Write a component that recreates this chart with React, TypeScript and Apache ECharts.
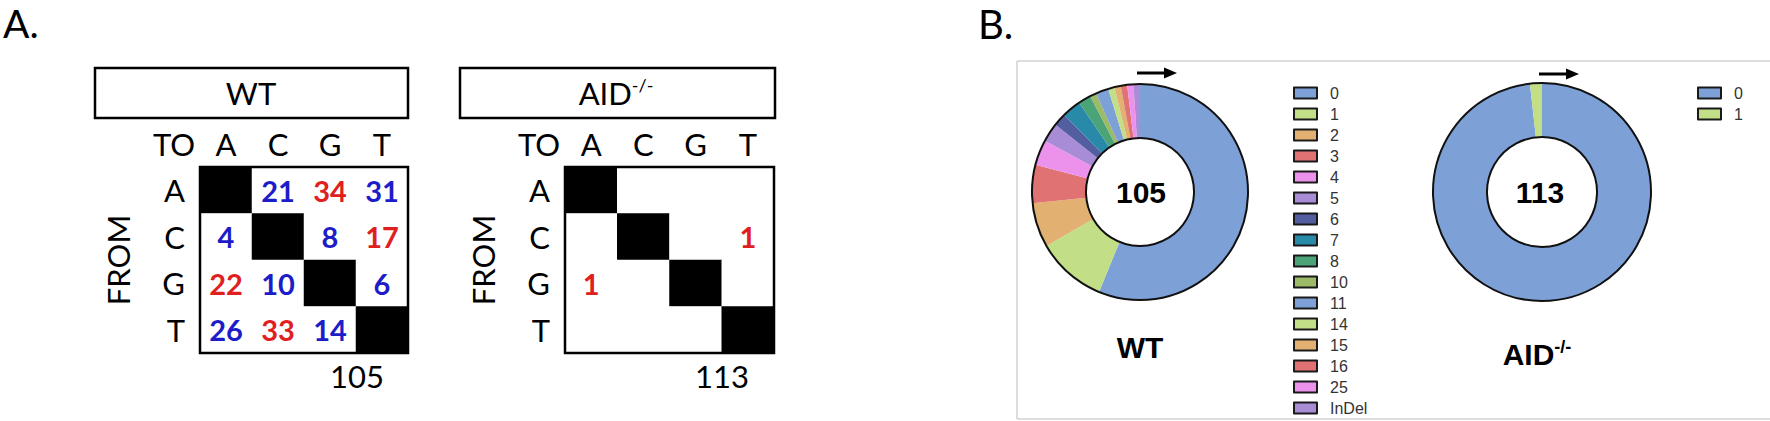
import React, { useEffect, useRef } from 'react';
import * as echarts from 'echarts';

// ---------- data ----------
const BASES = ['A', 'C', 'G', 'T'];
// rows = FROM (A,C,G,T), columns = TO (A,C,G,T); 0 = empty cell
const WT_MATRIX = [
  [0, 21, 34, 31],
  [4, 0, 8, 17],
  [22, 10, 0, 6],
  [26, 33, 14, 0],
];
const AID_MATRIX = [
  [0, 0, 0, 0],
  [0, 0, 0, 1],
  [1, 0, 0, 0],
  [0, 0, 0, 0],
];
const WT_TOTAL = '105';
const AID_TOTAL = '113';

const WT_CLASSES = ['0', '1', '2', '3', '4', '5', '6', '7', '8', '10', '11', '14', '15', '16', '25', 'InDel'];
const WT_COUNTS = [59, 11, 7, 6, 4, 3, 2, 3, 2, 1, 2, 1, 1, 1, 1, 1];
const AID_CLASSES = ['0', '1'];
const AID_COUNTS = [111, 2];

const PALETTE = ['#7da1d6', '#c2de87', '#e2b070', '#e07274', '#ec92ec', '#a88cd6', '#525ea0', '#288aa8', '#4aa478', '#9cba68'];
const RED = '#e0201e';
const BLUE = '#1c1cc8';

const CAL = 'Lato, "Open Sans", sans-serif';
const ARIAL = '"Liberation Sans", Arial, sans-serif';
const NARROW = '"Liberation Sans Narrow", "Arial Narrow", "Liberation Sans", sans-serif';

const isTransition = (a: string, b: string) =>
  (a === 'A' && b === 'G') || (a === 'G' && b === 'A') || (a === 'C' && b === 'T') || (a === 'T' && b === 'C');

// [toIndex, fromIndex, count, isDiagonal]
const cells = (m: number[][]) => {
  const out: any[] = [];
  m.forEach((row, i) =>
    row.forEach((v, j) => {
      out.push({
        value: [j, i, v, i === j ? 1 : 0],
        label: { color: isTransition(BASES[i], BASES[j]) ? RED : BLUE },
      });
    })
  );
  return out;
};

const pieData = (names: string[], counts: number[]) =>
  names.map((n, i) => ({ name: n, value: counts[i], itemStyle: { color: PALETTE[i % PALETTE.length] } }));

export default function App() {
  const ref = useRef<HTMLDivElement>(null);
  useEffect(() => {
    if (!ref.current) return;
    const chart = echarts.init(ref.current, null, { renderer: 'svg' });

    const gridA = [
      { left: 200, top: 167, width: 208, height: 186 },
      { left: 565, top: 167, width: 209, height: 186 },
    ];
    const axisLabelStyle = { fontFamily: CAL, fontSize: 31, color: '#000' };

    const txt = (text: string, x: number, y: number, font: string, extra: any = {}) => ({
      type: 'text',
      x,
      y,
      silent: true,
      ...extra,
      style: {
        text,
        font,
        fill: '#000',
        align: 'center',
        verticalAlign: 'middle',
        textAlign: 'center',
        textVerticalAlign: 'middle',
        ...(extra.style || {}),
      },
    });

    const panelA: any[] = [];
    const offsets = [0, 365];
    const boxW = [313, 315];
    offsets.forEach((off, k) => {
      panelA.push({
        type: 'rect',
        shape: { x: 95 + off, y: 68, width: boxW[k], height: 50 },
        style: { fill: '#fff', stroke: '#000', lineWidth: 2.5 },
        silent: true,
      });
      panelA.push(txt('TO', 174 + off, 144, `normal 31px ${CAL}`));
      panelA.push(txt('FROM', 118 + off, 260, `normal 31px ${CAL}`, { rotation: Math.PI / 2 }));
      panelA.push(txt(k === 0 ? WT_TOTAL : AID_TOTAL, 357 + off, 376, `normal 31px ${CAL}`));
    });
    panelA.push(txt('WT', 251, 93, `normal 31px ${CAL}`));
    panelA.push({
      type: 'text',
      x: 616,
      y: 93,
      silent: true,
      style: {
        text: '{a|AID}{s|-/-}',
        align: 'center',
        verticalAlign: 'middle',
        rich: {
          a: { fontFamily: CAL, fontSize: 31, color: '#000', lineHeight: 34 },
          s: { fontFamily: CAL, fontSize: 18, color: '#000', verticalAlign: 'top', lineHeight: 34 },
        },
      },
    });
    panelA.push(txt('A.', 3, 23, `normal 39px ${CAL}`, { style: { align: 'left', textAlign: 'left' } }));

    const arrow = (x0: number, y: number) => [
      { type: 'line', shape: { x1: x0, y1: y, x2: x0 + 30, y2: y }, style: { stroke: '#000', lineWidth: 3 }, silent: true },
      { type: 'polygon', shape: { points: [[x0 + 27, y - 5.5], [x0 + 40, y], [x0 + 27, y + 5.5]] }, style: { fill: '#000' }, silent: true },
    ];

    const panelB: any[] = [
      txt('B.', 978, 24, `normal 40px ${CAL}`, { style: { align: 'left', textAlign: 'left' } }),
      { type: 'line', shape: { x1: 1017, y1: 61, x2: 1770, y2: 61 }, style: { stroke: '#d2d2d2', lineWidth: 1.5 }, silent: true },
      { type: 'line', shape: { x1: 1017, y1: 61, x2: 1017, y2: 419 }, style: { stroke: '#d2d2d2', lineWidth: 1.5 }, silent: true },
      { type: 'line', shape: { x1: 1017, y1: 419, x2: 1770, y2: 419 }, style: { stroke: '#d2d2d2', lineWidth: 1.5 }, silent: true },
      ...arrow(1137, 73),
      ...arrow(1539, 74),
      txt(WT_TOTAL, 1141, 192, `bold 30px ${ARIAL}`),
      txt(AID_TOTAL, 1540, 192, `bold 30px ${ARIAL}`),
      txt('WT', 1140, 347, `bold 30px ${ARIAL}`),
      {
        type: 'text',
        x: 1537,
        y: 354,
        silent: true,
        style: {
          text: '{a|AID}{s|-/-}',
          align: 'center',
          verticalAlign: 'middle',
          rich: {
            a: { fontFamily: ARIAL, fontWeight: 'bold', fontSize: 30, color: '#000', lineHeight: 32 },
            s: { fontFamily: ARIAL, fontWeight: 'bold', fontSize: 18, color: '#000', verticalAlign: 'top', lineHeight: 32 },
          },
        },
      },
    ];

    const ringSeries = (center: number[], radius: number[]) => ({
      type: 'pie',
      center,
      radius,
      silent: true,
      startAngle: 90,
      label: { show: false },
      labelLine: { show: false },
      emphasis: { disabled: true },
      itemStyle: { color: 'rgba(0,0,0,0)', borderColor: '#111', borderWidth: 2 },
      data: [{ name: '__ring', value: 1 }],
      z: 4,
    });

    const pieSeries = (center: number[], radius: number[], names: string[], counts: number[]) => ({
      type: 'pie',
      center,
      radius,
      startAngle: 90,
      clockwise: true,
      silent: true,
      label: { show: false },
      labelLine: { show: false },
      emphasis: { disabled: true },
      itemStyle: { borderWidth: 0 },
      data: pieData(names, counts),
    });

    const legendBase = {
      orient: 'vertical',
      icon: 'rect',
      itemWidth: 23,
      itemHeight: 11,
      itemGap: 5,
      padding: 0,
      selectedMode: false,
      itemStyle: { borderColor: '#1a1a1a', borderWidth: 2 },
      textStyle: { fontFamily: NARROW, fontSize: 16, color: '#333', lineHeight: 16, padding: [0, 0, 0, 8] },
    };

    chart.setOption({
      animation: false,
      backgroundColor: '#fff',
      textStyle: { fontFamily: CAL },
      grid: gridA.map((g) => ({ ...g, show: true, borderColor: '#000', borderWidth: 2.5, backgroundColor: 'transparent', z: 10 })),
      xAxis: gridA.map((_, k) => ({
        type: 'category',
        gridIndex: k,
        data: BASES,
        position: 'top',
        axisLine: { show: false },
        axisTick: { show: false },
        splitLine: { show: false },
        axisLabel: { ...axisLabelStyle, margin: 8 },
      })),
      yAxis: gridA.map((_, k) => ({
        type: 'category',
        gridIndex: k,
        data: BASES,
        inverse: true,
        axisLine: { show: false },
        axisTick: { show: false },
        splitLine: { show: false },
        axisLabel: { ...axisLabelStyle, margin: 15 },
      })),
      visualMap: {
        type: 'piecewise',
        show: false,
        dimension: 3,
        seriesIndex: [0, 1],
        pieces: [
          { value: 1, color: '#000' },
          { value: 0, color: '#fff' },
        ],
      },
      legend: [
        { ...legendBase, data: WT_CLASSES, left: 1293, top: 85 },
        { ...legendBase, data: AID_CLASSES, left: 1697, top: 85 },
      ],
      series: [
        ...[WT_MATRIX, AID_MATRIX].map((m, k) => ({
          type: 'heatmap',
          xAxisIndex: k,
          yAxisIndex: k,
          silent: true,
          emphasis: { disabled: true },
          data: cells(m),
          label: {
            show: true,
            fontFamily: CAL,
            fontWeight: 'bold',
            fontSize: 29,
            formatter: (p: any) => (p.value[2] ? String(p.value[2]) : ''),
          },
        })),
        pieSeries([1140, 192], [54, 108], WT_CLASSES, WT_COUNTS),
        ringSeries([1140, 192], [54, 108]),
        pieSeries([1542, 192], [55, 109], AID_CLASSES, AID_COUNTS),
        ringSeries([1542, 192], [55, 109]),
      ],
      graphic: [...panelA, ...panelB],
    });
    return () => chart.dispose();
  }, []);

  return <div ref={ref} style={{ position: 'absolute', left: 0, top: 0, width: 1770, height: 421 }} />;
}
